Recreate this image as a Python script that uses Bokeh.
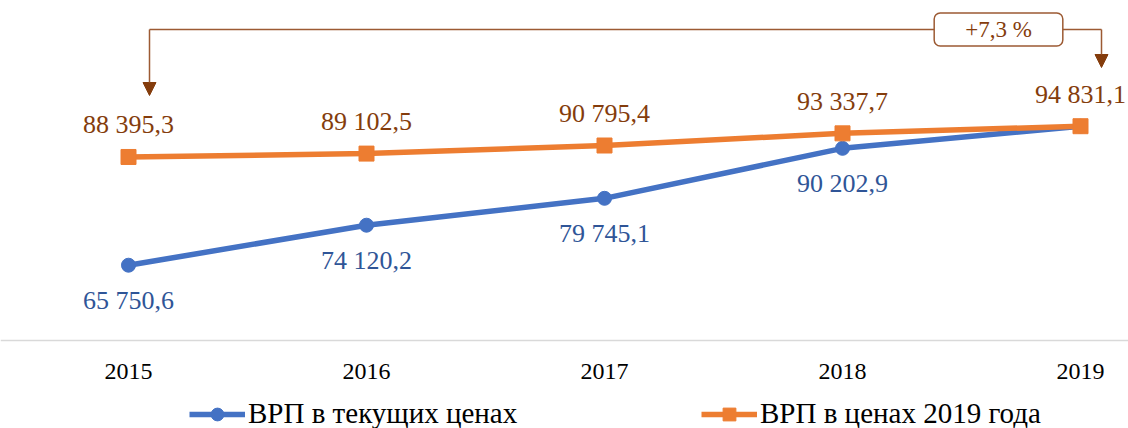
from bokeh.plotting import figure
from bokeh.models import (Range1d, Legend, LegendItem, Arrow, NormalHead,
                          Label, Span)
from bokeh.core.properties import value
from bokeh.embed import file_html
from bokeh.resources import INLINE

# ---- data ----
years = [2015, 2016, 2017, 2018, 2019]
year_labels = ["2015", "2016", "2017", "2018", "2019"]
grp_current = [65750.6, 74120.2, 79745.1, 90202.9, 94831.1]
grp_2019 = [88395.3, 89102.5, 90795.4, 93337.7, 94831.1]
series_names = ["ВРП в текущих ценах", "ВРП в ценах 2019 года"]
growth_label = "+7,3 %"
axis_base = 50000.0


def fmt(v):
    return f"{v:,.1f}".replace(",", " ").replace(".", ",")


BLUE = "#4472C4"
ORANGE = "#ED7D31"
BLUE_TXT = "#2F5597"
BROWN = "#843C0C"
BROWN_LINE = "#9C5A33"
FONT = "Liberation Serif"

W, H = 1128, 428
PX_PER_YEAR = 238.0
X0 = years[0] - 128 / PX_PER_YEAR
X1 = X0 + W / PX_PER_YEAR
UNITS_PER_PX = 209.21
AXIS_PX = 340
Y0 = axis_base - (H - AXIS_PX) * UNITS_PER_PX
Y1 = axis_base + AXIS_PX * UNITS_PER_PX

p = figure(width=W, height=H, output_backend="svg", toolbar_location=None,
           x_range=Range1d(X0, X1), y_range=Range1d(Y0, Y1),
           x_axis_location=None, y_axis_location=None,
           min_border=0, min_border_left=0, min_border_right=0,
           min_border_top=0, min_border_bottom=0)
p.outline_line_color = None
p.grid.visible = False
p.background_fill_color = "white"
p.border_fill_color = "white"


def px_x(px):
    return X0 + px * (X1 - X0) / W


def px_y(px):
    return Y0 + (H - px) * UNITS_PER_PX


# ---- category axis (baseline + year labels) ----
p.add_layout(Span(location=axis_base, dimension="width",
                  line_color="#d9d9d9", line_width=1.5))
p.text(years, [axis_base] * len(years), text=year_labels, y_offset=31,
       text_align="center", text_baseline="middle",
       text_font=value(FONT), text_font_size="24px", text_color="black")

# ---- series ----
l1 = p.line(years, grp_current, line_color=BLUE, line_width=5.5)
m1 = p.scatter(years, grp_current, marker="circle", size=14,
               fill_color=BLUE, line_color=BLUE)
l2 = p.line(years, grp_2019, line_color=ORANGE, line_width=5.5)
m2 = p.scatter(years, grp_2019, marker="square", size=15,
               fill_color=ORANGE, line_color=ORANGE)

# ---- data labels ----
p.text(years, grp_2019, text=[fmt(v) for v in grp_2019], y_offset=-32,
       text_align="center", text_baseline="middle",
       text_font=value(FONT), text_font_size="26px", text_color=BROWN)
p.text(years[:4], grp_current[:4], text=[fmt(v) for v in grp_current[:4]],
       y_offset=35, text_align="center", text_baseline="middle",
       text_font=value(FONT), text_font_size="26px", text_color=BLUE_TXT)

# ---- growth bracket ----
xl, xr = px_x(149), px_x(1101)
ytop = px_y(29)
p.add_layout(Arrow(x_start=xl, y_start=ytop, x_end=xr, y_end=ytop, end=None,
                   line_color=BROWN_LINE, line_width=1.5))
p.add_layout(Arrow(x_start=xl, y_start=ytop, x_end=xl, y_end=px_y(95),
                   end=NormalHead(size=13, fill_color=BROWN, line_color=BROWN),
                   line_color=BROWN_LINE, line_width=1.5))
p.add_layout(Arrow(x_start=xr, y_start=ytop, x_end=xr, y_end=px_y(67),
                   end=NormalHead(size=13, fill_color=BROWN, line_color=BROWN),
                   line_color=BROWN_LINE, line_width=1.5))
p.add_layout(Label(x=px_x(998), y=ytop, text=growth_label,
                   text_align="center", text_baseline="middle",
                   text_font=FONT, text_font_size="23px", text_color=BROWN,
                   background_fill_color="white",
                   border_line_color=BROWN_LINE, border_line_width=1.5,
                   padding=dict(left=31, right=31, top=4, bottom=4),
                   border_radius=6))

# ---- legends ----
leg1 = Legend(items=[LegendItem(label=series_names[0], renderers=[l1, m1])],
              location=(189, -2))
leg2 = Legend(items=[LegendItem(label=series_names[1], renderers=[l2, m2])],
              location=(701, -2))
for lg in (leg1, leg2):
    lg.label_text_font = FONT
    lg.label_text_font_size = "29px"
    lg.label_text_color = "black"
    lg.glyph_width = 56
    lg.glyph_height = 32
    lg.label_standoff = 3
    lg.padding = 0
    lg.margin = 0
    lg.spacing = 0
    lg.border_line_color = None
    lg.background_fill_alpha = 0
    p.add_layout(lg, "center")

open("out.html", "w").write(file_html(p, INLINE))
